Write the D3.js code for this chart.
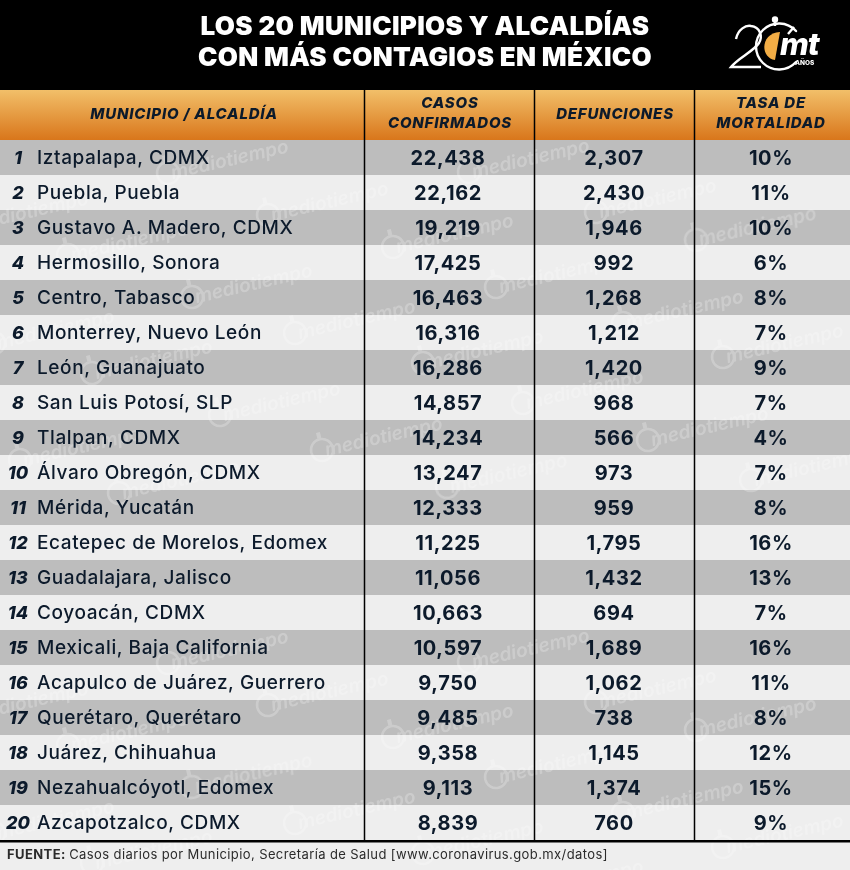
<!DOCTYPE html>
<html>
<head>
<meta charset="utf-8">
<script src="https://cdn.jsdelivr.net/npm/d3@7"></script>
<style>
  html, body { margin: 0; padding: 0; background: #eeeeee; }
  svg { display: block; }
  text { font-family: Inter, "Open Sans", sans-serif; }
</style>
</head>
<body>
<div id="chart"></div>
<script>
var titleLines = ["LOS 20 MUNICIPIOS Y ALCALDÍAS", "CON MÁS CONTAGIOS EN MÉXICO"];
var columnHeads = [["MUNICIPIO / ALCALDÍA"], ["CASOS", "CONFIRMADOS"], ["DEFUNCIONES"], ["TASA DE", "MORTALIDAD"]];
var municipios = ["Iztapalapa, CDMX", "Puebla, Puebla", "Gustavo A. Madero, CDMX", "Hermosillo, Sonora", "Centro, Tabasco",
  "Monterrey, Nuevo León", "León, Guanajuato", "San Luis Potosí, SLP", "Tlalpan, CDMX", "Álvaro Obregón, CDMX",
  "Mérida, Yucatán", "Ecatepec de Morelos, Edomex", "Guadalajara, Jalisco", "Coyoacán, CDMX", "Mexicali, Baja California",
  "Acapulco de Juárez, Guerrero", "Querétaro, Querétaro", "Juárez, Chihuahua", "Nezahualcóyotl, Edomex", "Azcapotzalco, CDMX"];
var casos = [22438, 22162, 19219, 17425, 16463, 16316, 16286, 14857, 14234, 13247, 12333, 11225, 11056, 10663, 10597, 9750, 9485, 9358, 9113, 8839];
var defunciones = [2307, 2430, 1946, 992, 1268, 1212, 1420, 968, 566, 973, 959, 1795, 1432, 694, 1689, 1062, 738, 1145, 1374, 760];
var tasa = [10, 11, 10, 6, 8, 7, 9, 7, 4, 7, 8, 16, 13, 7, 16, 11, 8, 12, 15, 9];
var fuente = "Casos diarios por Municipio, Secretaría de Salud [www.coronavirus.gob.mx/datos]";

var width = 850, height = 870;
var ink = "#0c1a2b";
var fmt = d3.format(",");

var svg = d3.select("#chart").append("svg")
  .attr("width", width)
  .attr("height", height);

var y = d3.scaleBand().domain(d3.range(municipios.length)).range([140, 840]);
var colEdges = [0, 364.5, 534.5, 694.5, 850];

// background
svg.append("rect").attr("width", width).attr("height", height).attr("fill", "#eeeeee");
svg.append("rect").attr("width", width).attr("height", 90).attr("fill", "#000");

var grad = svg.append("defs").append("linearGradient")
  .attr("id", "headGrad").attr("x1", 0).attr("x2", 0).attr("y1", 0).attr("y2", 1);
grad.append("stop").attr("offset", "0%").attr("stop-color", "#f2bf69");
grad.append("stop").attr("offset", "100%").attr("stop-color", "#d9761b");
svg.append("rect").attr("y", 90).attr("width", width).attr("height", 50).attr("fill", "url(#headGrad)");

// rows
svg.selectAll(".row").data(municipios).enter().append("rect")
  .attr("class", "row")
  .attr("y", function (d, i) { return y(i); })
  .attr("width", width)
  .attr("height", y.bandwidth())
  .attr("fill", function (d, i) { return i % 2 ? "#eeeeee" : "#bdbdbd"; });

// watermark, same block of stamps repeats further down
var clip = svg.select("defs").append("clipPath").attr("id", "bodyClip");
clip.append("rect").attr("y", 140).attr("width", width).attr("height", height - 140);
var stamps = [[168,173],[192,297],[220,415],[268,215],[295,333],[322,450],[393,247],[423,363],[447,487],[469,172],[496,287],[523,403],
  [596,212],[623,323],[648,440],[696,240],[723,357],[751,480],[68,255],[92,373],[119,493],[-32,225],[-6,343],[20,460]];
var wm = svg.append("g").attr("clip-path", "url(#bodyClip)").attr("fill", "#fff").attr("opacity", 0.24);
[0, 490].forEach(function (dy) {
  stamps.forEach(function (s) {
    var g = wm.append("g").attr("transform", "translate(" + s[0] + "," + (s[1] + dy) + ") rotate(-13)");
    g.append("circle").attr("r", 11).attr("fill", "none").attr("stroke", "#fff").attr("stroke-width", 2.5);
    g.append("rect").attr("x", -2).attr("y", -18).attr("width", 4).attr("height", 6);
    g.append("text").attr("x", 3).attr("y", 7)
      .attr("font-size", "19px").attr("font-style", "italic").attr("font-weight", 600)
      .text("mediotiempo");
  });
});

// title
svg.selectAll(".title").data(titleLines).enter().append("text")
  .attr("class", "title")
  .attr("x", 425)
  .attr("y", function (d, i) { return 35 + i * 31; })
  .attr("text-anchor", "middle")
  .attr("fill", "#fff")
  .attr("font-size", "26px")
  .attr("font-weight", 900)
  .attr("letter-spacing", "0.3px")
  .text(function (d) { return d; });

// column heads
columnHeads.forEach(function (lines, c) {
  var cx = [184, 450, 615, 771][c];
  var first = lines.length == 1 ? 118.5 : 107.5;
  lines.forEach(function (line, i) {
    svg.append("text")
      .attr("x", cx)
      .attr("y", first + i * 20)
      .attr("text-anchor", "middle")
      .attr("fill", ink)
      .attr("font-size", "15px")
      .attr("font-weight", 800)
      .attr("font-style", "italic")
      .attr("letter-spacing", "0.8px")
      .text(line);
  });
});

// column rules
svg.selectAll(".rule").data(colEdges.slice(1, 4)).enter().append("line")
  .attr("class", "rule")
  .attr("x1", function (d) { return d; })
  .attr("x2", function (d) { return d; })
  .attr("y1", 90)
  .attr("y2", 840)
  .attr("stroke", "#000")
  .attr("stroke-width", 1.5);

// cells
var rows = svg.selectAll(".cells").data(municipios).enter().append("g")
  .attr("class", "cells")
  .attr("transform", function (d, i) { return "translate(0," + (y(i) + y.bandwidth() / 2 + 6) + ")"; });

rows.append("text")
  .attr("x", 18)
  .attr("text-anchor", "middle")
  .attr("fill", ink)
  .attr("font-size", "18px")
  .attr("font-weight", 800)
  .attr("font-style", "italic")
  .text(function (d, i) { return i + 1; });

rows.append("text")
  .attr("x", 37)
  .attr("fill", ink)
  .attr("font-size", "19px")
  .attr("font-weight", 500)
  .attr("letter-spacing", "0.6px")
  .text(function (d) { return d; });

function numberCol(values, cx, format) {
  rows.append("text")
    .attr("x", cx)
    .attr("y", 1)
    .attr("text-anchor", "middle")
    .attr("fill", ink)
    .attr("font-size", "20px")
    .attr("font-weight", 700)
    .attr("letter-spacing", "0.6px")
    .text(function (d, i) { return format(values[i]); });
}
numberCol(casos, 448, fmt);
numberCol(defunciones, 614, fmt);
numberCol(tasa, 771, function (v) { return v + "%"; });

// footer
svg.append("rect").attr("y", 840).attr("width", width).attr("height", 2.5).attr("fill", "#000");
var foot = svg.append("text").attr("x", 7).attr("y", 859)
  .attr("fill", "#2b2b2b").attr("font-size", "13px").attr("letter-spacing", "0.4px");
foot.append("tspan").attr("font-weight", 700).text("FUENTE: ");
foot.append("tspan").text(fuente);

// logo
var logo = svg.append("g").attr("fill", "none").attr("stroke", "#fff").attr("stroke-width", 2.4);
logo.append("path").attr("d", "M736,39 C738,29 746,25 751,26 C760,27 763,36 759,43 C754,51 738,58 731,67 L761,67");
logo.append("path").attr("d", "M796,31 A23,23 0 1 0 796,62").attr("stroke-linecap", "round");
logo.append("path").attr("d", "M780,32 L775,60 C760,58 760,33 780,32 Z")
  .attr("fill", "#f2ad45").attr("stroke", "none");
logo.append("line").attr("x1", 775).attr("x2", 775).attr("y1", 20).attr("y2", 26);
logo.append("circle").attr("cx", 775).attr("cy", 19.5).attr("r", 2).attr("fill", "#fff");
logo.append("line").attr("x1", 788).attr("x2", 794).attr("y1", 34).attr("y2", 27);
svg.append("text").attr("x", 780).attr("y", 55).attr("fill", "#fff")
  .attr("font-size", "31px").attr("font-weight", 800).attr("font-style", "italic").attr("letter-spacing", "-1px").text("mt");
svg.append("text").attr("x", 795).attr("y", 65).attr("fill", "#fff")
  .attr("font-size", "6.5px").attr("font-weight", 800).text("AÑOS");
</script>
</body>
</html>
